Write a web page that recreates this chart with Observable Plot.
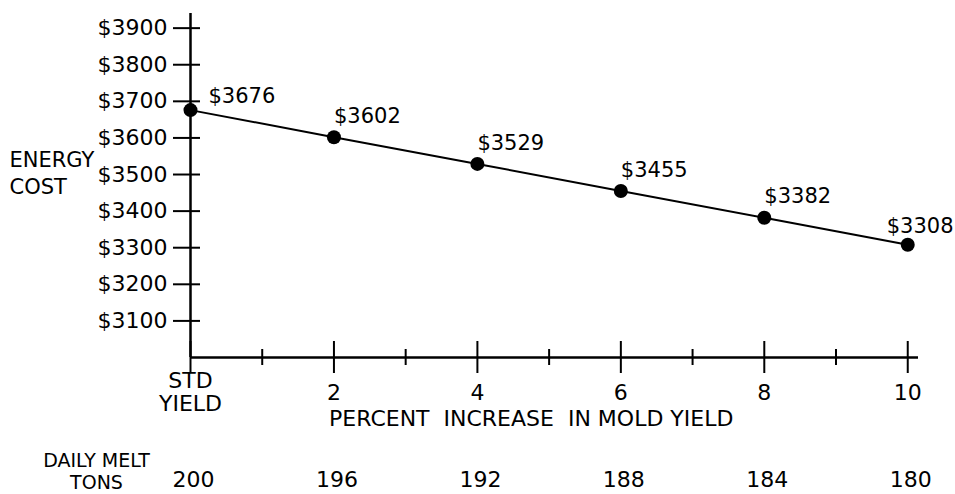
<!DOCTYPE html>
<html><head><meta charset="utf-8">
<script src="https://cdn.jsdelivr.net/npm/d3@7"></script>
<script src="https://cdn.jsdelivr.net/npm/@observablehq/plot@0.6"></script>
<style>body{margin:0;background:#fff} svg{display:block}</style>
</head><body><div id="chart"></div>
<script>
const percentIncrease = [0, 2, 4, 6, 8, 10];
const energyCost = [3676, 3602, 3529, 3455, 3382, 3308];
const dailyMeltTons = [200, 196, 192, 188, 184, 180];
const yTicks = [3100, 3200, 3300, 3400, 3500, 3600, 3700, 3800, 3900];
const xMajorTicks = [0, 2, 4, 6, 8, 10];
const xMinorTicks = [1, 3, 5, 7, 9];
const xTickLabels = ["STD\nYIELD", "2", "4", "6", "8", "10"];
const yTitle = "ENERGY\nCOST";
const xTitle = "PERCENT  INCREASE  IN MOLD YIELD";
const meltTitle = "DAILY MELT\nTONS";

const points = percentIncrease.map((p, i) => ({p, cost: energyCost[i], tons: dailyMeltTons[i], label: xTickLabels[i]}));
const last = points.length - 1;
const fam = "DejaVu Sans";

const chart = Plot.plot({
  width: 955, height: 494,
  marginLeft: 190, marginRight: 37, marginTop: 13, marginBottom: 137,
  style: {fontFamily: fam, fontSize: "22px", background: "#fff", color: "#000"},
  x: {domain: [0, 10.15], axis: null},
  y: {domain: [3000, 3940], axis: null},
  marks: [
    Plot.ruleX([0], {stroke: "#000", strokeWidth: 2.5}),
    Plot.ruleY([3000], {stroke: "#000", strokeWidth: 2.5}),
    Plot.ruleY(yTicks, {y: d => d, x1: 0, x2: 0, insetLeft: -17, insetRight: -10, stroke: "#000", strokeWidth: 2}),
    Plot.ruleX(xMajorTicks, {x: d => d, y1: 3000, y2: 3000, insetTop: -16, insetBottom: -16, stroke: "#000", strokeWidth: 2}),
    Plot.ruleX(xMinorTicks, {x: d => d, y1: 3000, y2: 3000, insetTop: -8, insetBottom: -8, stroke: "#000", strokeWidth: 2}),
    Plot.text(yTicks, {y: d => d, x: 0, text: d => "$" + d, textAnchor: "end", dx: -23, fontSize: 22}),
    Plot.text(points, {x: "p", y: 3000, text: "label", dy: 35, lineHeight: 1.05, fontSize: 22}),
    Plot.text(points, {x: "p", y: 3000, text: "tons", dy: 122, dx: 3, fontSize: 22}),
    Plot.text([xTitle], {x: 4.75, y: 3000, text: d => d, dy: 61, fontSize: 22}),
    Plot.text([yTitle], {frameAnchor: "top-left", text: d => d, textAnchor: "start", lineAnchor: "top", dx: -181, dy: 134, lineHeight: 1.3, fontSize: 21}),
    Plot.text([meltTitle], {frameAnchor: "bottom-left", text: d => d, textAnchor: "middle", lineAnchor: "top", dx: -94, dy: 94, lineHeight: 1.15, fontSize: 19}),
    Plot.line(points, {x: "p", y: "cost", stroke: "#000", strokeWidth: 2}),
    Plot.dot(points, {x: "p", y: "cost", r: 7, fill: "#000"}),
    Plot.text(points, {filter: (d, i) => i === 0, x: "p", y: "cost", text: d => "$" + d.cost, textAnchor: "start", dx: 18, dy: -14, fontSize: 21}),
    Plot.text(points, {filter: (d, i) => i > 0 && i < last, x: "p", y: "cost", text: d => "$" + d.cost, textAnchor: "start", dx: 0, dy: -21, fontSize: 21}),
    Plot.text(points, {filter: (d, i) => i === last, x: "p", y: "cost", text: d => "$" + d.cost, textAnchor: "start", dx: -21, dy: -19, fontSize: 21})
  ]
});
document.getElementById("chart").append(chart);
</script>
</body></html>
